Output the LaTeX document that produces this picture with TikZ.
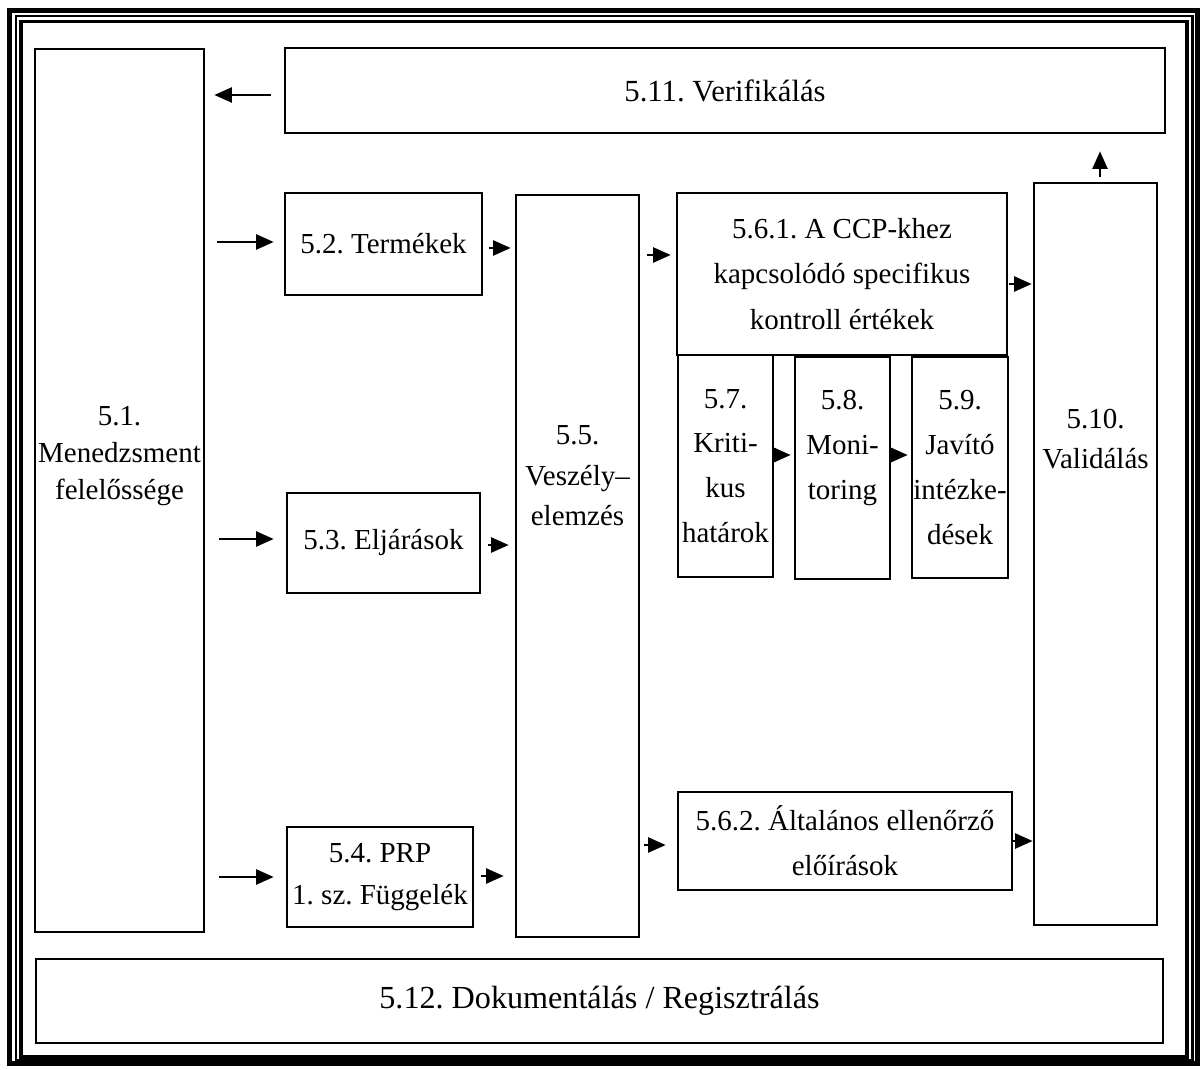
\documentclass[tikz,border=0pt]{standalone}
\usepackage{fontspec}
\setmainfont{Liberation Serif}
\frenchspacing
\usetikzlibrary{arrows.meta}
\tikzstyle{box_normal} = [rectangle, draw, line width=1.5pt, inner sep=0pt, align=center, font=\fontsize{16.5}{25.5}\selectfont]
\tikzstyle{text_label} = [inner sep=0pt, align=center, font=\fontsize{16.5}{25.5}\selectfont]
\tikzstyle{edge_arrow} = [line width=1.4pt, -{Triangle[length=10pt,width=8.5pt]}]

\begin{document}
\begin{tikzpicture}[x=0.02cm, y=-0.02cm]
		\useasboundingbox (0,0) rectangle (1203,1070);
		% frame
		\draw[line width=3pt] (9.5,10.5) rectangle (1197.5,1063.5);
		\draw[line width=1.3pt] (15.8,16.2) rectangle (1192.5,1060);
		\draw[line width=2pt] (21,21.7) rectangle (1187,1057);

		\node (m51) at (119.5,490.5) [box_normal, minimum width=3.38cm, minimum height=17.66cm] {};
		\node (m51txt) at (119.5,456) [text_label, font=\fontsize{16.5}{21}\selectfont] {5.1.\\Menedzsment\\felelőssége};
		\node (v511) at (725,90.5) [box_normal, minimum width=17.6cm, minimum height=1.7cm, font=\fontsize{17.5}{21}\selectfont] {5.11. Verifikálás};
		\node (t52) at (383.5,244) [box_normal, minimum width=3.94cm, minimum height=2.04cm] {5.2. Termékek};
		\node (e53) at (383.5,543) [box_normal, minimum width=3.86cm, minimum height=2cm] {5.3. Eljárások};
		\node (p54) at (380,877) [box_normal, minimum width=3.72cm, minimum height=2cm, font=\fontsize{16.5}{24}\selectfont] {5.4. PRP\\1. sz. Függelék};
		\node (v55) at (577.5,566) [box_normal, minimum width=2.46cm, minimum height=14.84cm] {};
		\node (v55txt) at (577.5,476) [text_label, font=\fontsize{16.5}{23}\selectfont] {5.5.\\Veszély–\\elemzés};
		\node (c561) at (842,274) [box_normal, minimum width=6.6cm, minimum height=3.24cm, font=\fontsize{16.5}{26}\selectfont] {5.6.1. A CCP-khez\\kapcsolódó specifikus\\kontroll értékek};
		\node (k57) at (725.5,466) [box_normal, minimum width=1.9cm, minimum height=4.44cm] {5.7.\\Kriti-\\kus\\határok};
		\node (m58) at (842.5,468) [box_normal, minimum width=1.9cm, minimum height=4.44cm] {};
		\node (m58txt) at (842.5,448) [text_label] {5.8.\\Moni-\\toring};
		\node (j59) at (960,467.5) [box_normal, minimum width=1.92cm, minimum height=4.42cm] {5.9.\\Javító\\intézke-\\dések};
		\node (a562) at (845,841) [box_normal, minimum width=6.68cm, minimum height=1.96cm] {5.6.2. Általános ellenőrző\\előírások};
		\node (v510) at (1095.5,554) [box_normal, minimum width=2.46cm, minimum height=14.84cm] {};
		\node (v510txt) at (1095.5,439) [text_label, font=\fontsize{16.5}{23}\selectfont] {5.10.\\Validálás};
		\node (d512) at (599.5,1001) [box_normal, minimum width=22.54cm, minimum height=1.68cm, font=\fontsize{18.3}{22}\selectfont] {5.12. Dokumentálás / Regisztrálás};

		\draw[edge_arrow, shorten <=0.26cm, shorten >=0.18cm] (v511.west |- 0,95) -- (m51.east |- 0,95);
		\draw[edge_arrow, shorten <=0.24cm, shorten >=0.2cm] (m51.east |- 0,242) -- (t52.west |- 0,242);
		\draw[edge_arrow, shorten <=0.28cm, shorten >=0.24cm] (m51.east |- 0,539) -- (e53.west |- 0,539);
		\draw[edge_arrow, shorten <=0.28cm, shorten >=0.24cm] (m51.east |- 0,877) -- (p54.west |- 0,877);
		\draw[edge_arrow, shorten <=0.12cm, shorten >=0.08cm] (t52.east |- 0,248) -- (v55.west |- 0,248);
		\draw[edge_arrow, shorten <=0.14cm, shorten >=0.12cm] (e53.east |- 0,545) -- (v55.west |- 0,545);
		\draw[edge_arrow, shorten <=0.14cm, shorten >=0.22cm] (p54.east |- 0,876) -- (v55.west |- 0,876);
		\draw[edge_arrow, shorten <=0.14cm, shorten >=0.1cm] (v55.east |- 0,255) -- (c561.west |- 0,255);
		\draw[edge_arrow, shorten <=0.08cm, shorten >=0.22cm] (v55.east |- 0,845) -- (a562.west |- 0,845);
		\draw[edge_arrow, shorten <=0.02cm, shorten >=0.02cm] (c561.east |- 0,284) -- (v510.west |- 0,284);
		\draw[edge_arrow] (a562.east |- 0,841) -- (v510.west |- 0,841);
		\draw[edge_arrow, shorten <=0.02cm, shorten >=0.06cm] (k57.east |- 0,455) -- (m58.west |- 0,455);
		\draw[edge_arrow, shorten <=0.04cm, shorten >=0.06cm] (m58.east |- 0,455) -- (j59.west |- 0,455);
		\draw[edge_arrow, shorten <=0.1cm, shorten >=0.34cm] (v510.north -| 1100,0) -- (v511.south -| 1100,0);
\end{tikzpicture}
\end{document}
